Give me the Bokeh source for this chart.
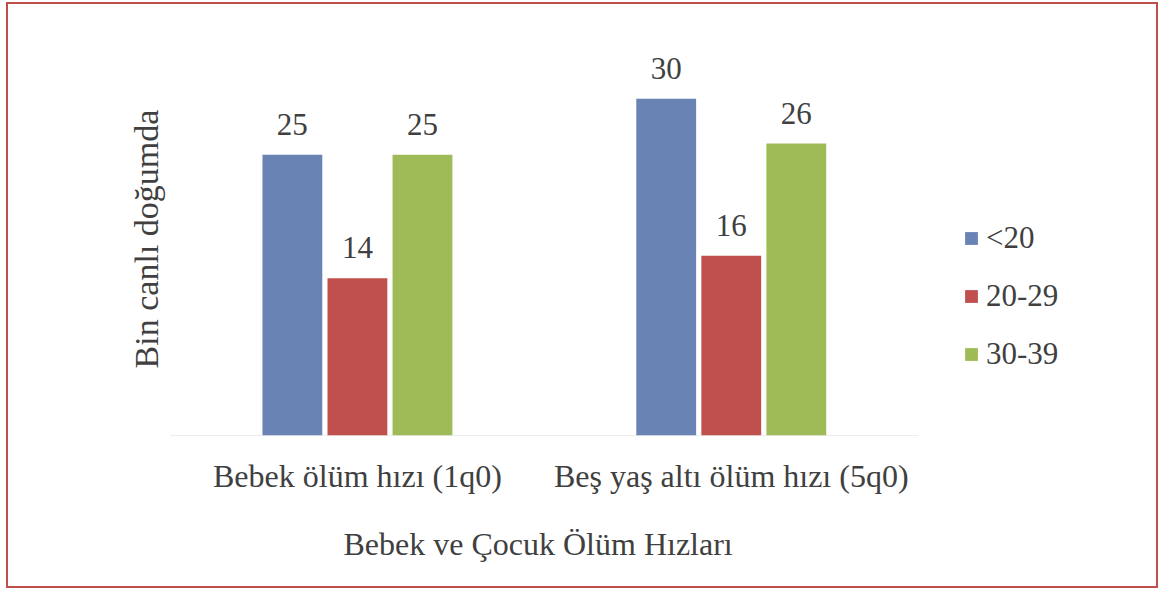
from bokeh.plotting import figure
from bokeh.models import ColumnDataSource, Range1d, Legend, LegendItem, FixedTicker, Title
from bokeh.core.properties import value
from bokeh.embed import file_html
from bokeh.resources import INLINE

categories = ["Bebek ölüm hızı (1q0)", "Beş yaş altı ölüm hızı (5q0)"]
groups = ["<20", "20-29", "30-39"]
lt20 = [25, 30]
g20_29 = [14, 16]
g30_39 = [25, 26]
colors = ["#6983b4", "#c0504d", "#9fbb58"]
x_title = "Bebek ve Çocuk Ölüm Hızları"
y_title = "Bin canlı doğumda"

FONT = "Liberation Serif"
TXT = "#404040"

centers = [i + 0.5 for i in range(len(categories))]

p = figure(x_range=Range1d(0, 2.6), y_range=Range1d(0, 35),
           width=1152, height=586, output_backend="svg", toolbar_location=None,
           min_border_left=162, min_border_right=18, min_border_top=38, min_border_bottom=155)
p.styles = {"border": "2px solid #c0504d", "margin": "2px 0px 0px 6px"}

# baseline under the categories
p.segment(x0=[0], x1=[len(categories)], y0=[0], y1=[0], line_color="#d9d9d9", line_width=1)

offsets = [-0.174, 0.0, 0.174]
series = [lt20, g20_29, g30_39]
items = []
for off, vals, color, g in zip(offsets, series, colors, groups):
    src = ColumnDataSource(dict(x=[c + off for c in centers], top=vals,
                                lbl=[str(v) for v in vals]))
    r = p.vbar(x="x", top="top", width=0.16, source=src,
               fill_color=color, line_color=None)
    p.text(x="x", y="top", text="lbl", source=src,
           text_align="center", text_baseline="bottom", y_offset=-20,
           text_font=value(FONT), text_font_size="31px", text_color=TXT)
    items.append(LegendItem(label=g, renderers=[r]))

legend = Legend(items=items, location=(793, 63), orientation="vertical",
                glyph_width=16, glyph_height=16, label_standoff=7, label_height=30,
                spacing=22, padding=0, margin=0, border_line_color=None,
                background_fill_alpha=0, label_text_font=FONT,
                label_text_font_size="31px", label_text_color=TXT)
p.add_layout(legend, "center")

p.xgrid.visible = False
p.ygrid.visible = False
p.outline_line_color = None

p.xaxis.ticker = FixedTicker(ticks=centers)
p.xaxis.major_label_overrides = {c: cat for c, cat in zip(centers, categories)}
p.xaxis.axis_line_color = None
p.xaxis.major_tick_line_color = None
p.xaxis.minor_tick_line_color = None
p.xaxis.major_label_text_font = FONT
p.xaxis.major_label_text_font_size = "32px"
p.xaxis.major_label_text_color = TXT
p.xaxis.major_label_standoff = 16

xt = Title(text=x_title, align="left", offset=173, standoff=55,
           text_font=FONT, text_font_size="32px", text_font_style="normal",
           text_color=TXT)
p.add_layout(xt, "below")

p.yaxis.axis_line_color = None
p.yaxis.major_tick_line_color = None
p.yaxis.minor_tick_line_color = None
p.yaxis.major_label_text_font_size = "0px"
p.yaxis.axis_label = y_title
p.yaxis.axis_label_text_font = FONT
p.yaxis.axis_label_text_font_size = "34px"
p.yaxis.axis_label_text_font_style = "normal"
p.yaxis.axis_label_text_color = TXT
p.yaxis.axis_label_standoff = 0

open("out.html", "w").write(file_html(p, INLINE))
